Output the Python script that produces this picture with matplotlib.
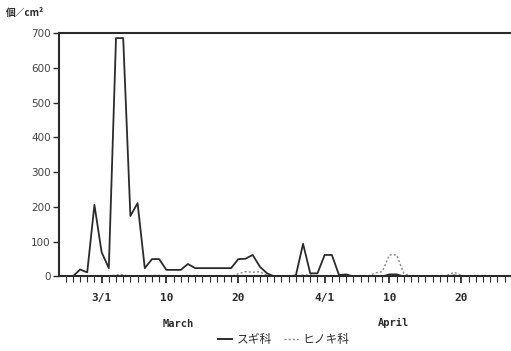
import matplotlib
matplotlib.use("Agg")
import matplotlib.pyplot as plt
from matplotlib.lines import Line2D

# Day offsets relative to March 1 (0 = 3/1, 31 = 4/1)
days = list(range(-6, 57))

# Daily airborne pollen counts (grains / cm²)
sugi = [0, 0, 0, 20, 12, 206, 70, 24, 686, 686,
        174, 211, 24, 50, 50, 19, 19, 19, 36, 24,
        24, 24, 24, 24, 24, 50, 51, 62, 28, 9,
        0, 0, 0, 3, 94, 9, 9, 62, 62, 4,
        6, 0, 0, 0, 0, 0, 6, 6, 0, 0,
        0, 0, 0, 0, 0, 3, 0, 0, 0, 0,
        0, 0, 0]
hinoki = [0, 0, 0, 0, 0, 0, 0, 0, 5, 5,
          0, 0, 0, 3, 3, 0, 0, 0, 0, 0,
          0, 0, 0, 0, 0, 8, 14, 12, 14, 3,
          0, 0, 0, 0, 4, 4, 0, 0, 0, 0,
          0, 0, 0, 0, 10, 14, 62, 62, 9, 0,
          0, 0, 0, 0, 3, 12, 3, 0, 0, 0,
          0, 0, 0]

tick_days = [0, 9, 19, 31, 40, 50]
tick_labels = ["3/1", "10", "20", "4/1", "10", "20"]
y_ticks = [0, 100, 200, 300, 400, 500, 600, 700]

ink = "#2b2b2b"
fig = plt.figure(figsize=(5.11, 3.51), dpi=100)
ax = fig.add_axes([0.1155, 0.2123, 0.8845, 0.6930])

ax.plot(days, hinoki, color="#8a8a8a", lw=1.0, ls=(0, (1.5, 1.5)), zorder=2)
ax.plot(days, sugi, color=ink, lw=1.3, zorder=3)

ax.set_xlim(-5.92, 56.9)
ax.set_ylim(0, 700)

for side in ("left", "top", "bottom"):
    ax.spines[side].set_color(ink)
    ax.spines[side].set_linewidth(1.5)
ax.spines["right"].set_visible(False)

ax.set_yticks(y_ticks)
ax.set_yticklabels([str(v) for v in y_ticks], fontsize=7.5, color="#444444",
                   family="DejaVu Sans")
ax.tick_params(axis="y", direction="out", length=4, width=1.0, color=ink, pad=2)

ax.set_xticks(tick_days)
ax.set_xticklabels(tick_labels, fontsize=8, fontweight="bold",
                   family="DejaVu Sans Mono", color=ink)
ax.set_xticks(list(range(-5, 57)), minor=True)
ax.tick_params(axis="x", which="major", direction="out", length=5, width=1.3,
               color=ink, pad=7)
ax.tick_params(axis="x", which="minor", direction="out", length=4, width=0.8,
               color=ink)

# month captions under the date labels
ax.text(10.6, -0.195, "March", transform=ax.get_xaxis_transform(),
        ha="center", va="center", fontsize=7.5, fontweight="bold",
        family="DejaVu Sans Mono", color=ink)
ax.text(40.5, -0.19, "April", transform=ax.get_xaxis_transform(),
        ha="center", va="center", fontsize=7.5, fontweight="bold",
        family="DejaVu Sans Mono", color=ink)

# unit caption above the y axis
fig.text(0.012, 0.962, "個／cm²", fontsize=7, fontweight="bold",
         family=["Noto Sans CJK JP", "DejaVu Sans"], color=ink,
         ha="left", va="center")

handles = [Line2D([], [], color=ink, lw=1.4),
           Line2D([], [], color="#8a8a8a", lw=1.0, ls=(0, (1.5, 1.5)))]
fig.legend(handles, ["スギ科", "ヒノキ科"], loc="center",
           bbox_to_anchor=(0.555, 0.032), ncol=2, frameon=False,
           prop={"family": ["Noto Sans CJK JP", "DejaVu Sans"], "size": 8.5},
           handlelength=1.2, handletextpad=0.4, columnspacing=1.0,
           labelcolor=ink)

fig.savefig("out.png", dpi=100, facecolor="white")
